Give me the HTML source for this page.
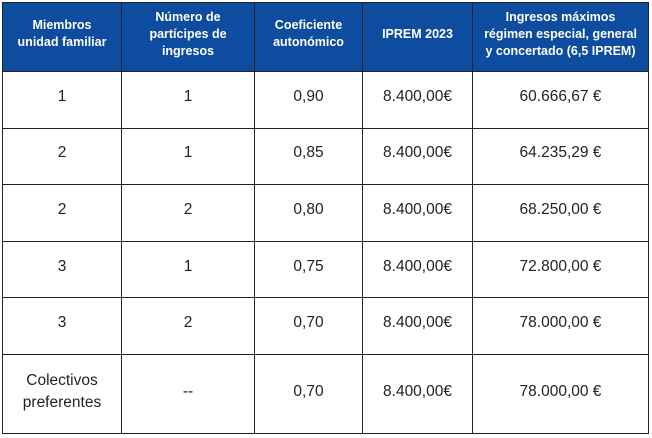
<!DOCTYPE html>
<html><head><meta charset="utf-8"><style>
body{margin:0;background:#fff;width:652px;height:438px;overflow:hidden;font-family:"Liberation Sans",sans-serif;}
table{position:absolute;left:2px;top:2px;border-collapse:collapse;table-layout:fixed;}
td,th{border:1px solid #222;text-align:center;vertical-align:middle;padding:0 0 6px 0;}
th{background:#0d4c9f;color:#fff;font-size:12.5px;font-weight:bold;line-height:17px;height:62px;padding:0 2px 6px;}
td{font-size:15.5px;color:#222;height:49.6px;line-height:22px;}
tr.last td{height:74px;padding-bottom:4px;}
</style></head><body>
<table>
<colgroup><col style="width:119px"><col style="width:133px"><col style="width:108px"><col style="width:110px"><col style="width:176px"></colgroup>
<tr><th>Miembros<br>unidad familiar</th><th>Número de<br>partícipes de<br>ingresos</th><th>Coeficiente<br>autonómico</th><th>IPREM 2023</th><th>Ingresos máximos<br>régimen especial, general<br>y concertado (6,5 IPREM)</th></tr>
<tr><td>1</td><td>1</td><td>0,90</td><td>8.400,00€</td><td>60.666,67 €</td></tr>
<tr><td>2</td><td>1</td><td>0,85</td><td>8.400,00€</td><td>64.235,29 €</td></tr>
<tr><td>2</td><td>2</td><td>0,80</td><td>8.400,00€</td><td>68.250,00 €</td></tr>
<tr><td>3</td><td>1</td><td>0,75</td><td>8.400,00€</td><td>72.800,00 €</td></tr>
<tr><td>3</td><td>2</td><td>0,70</td><td>8.400,00€</td><td>78.000,00 €</td></tr>
<tr class="last"><td>Colectivos<br>preferentes</td><td>--</td><td>0,70</td><td>8.400,00€</td><td>78.000,00 €</td></tr>
</table>
</body></html>
